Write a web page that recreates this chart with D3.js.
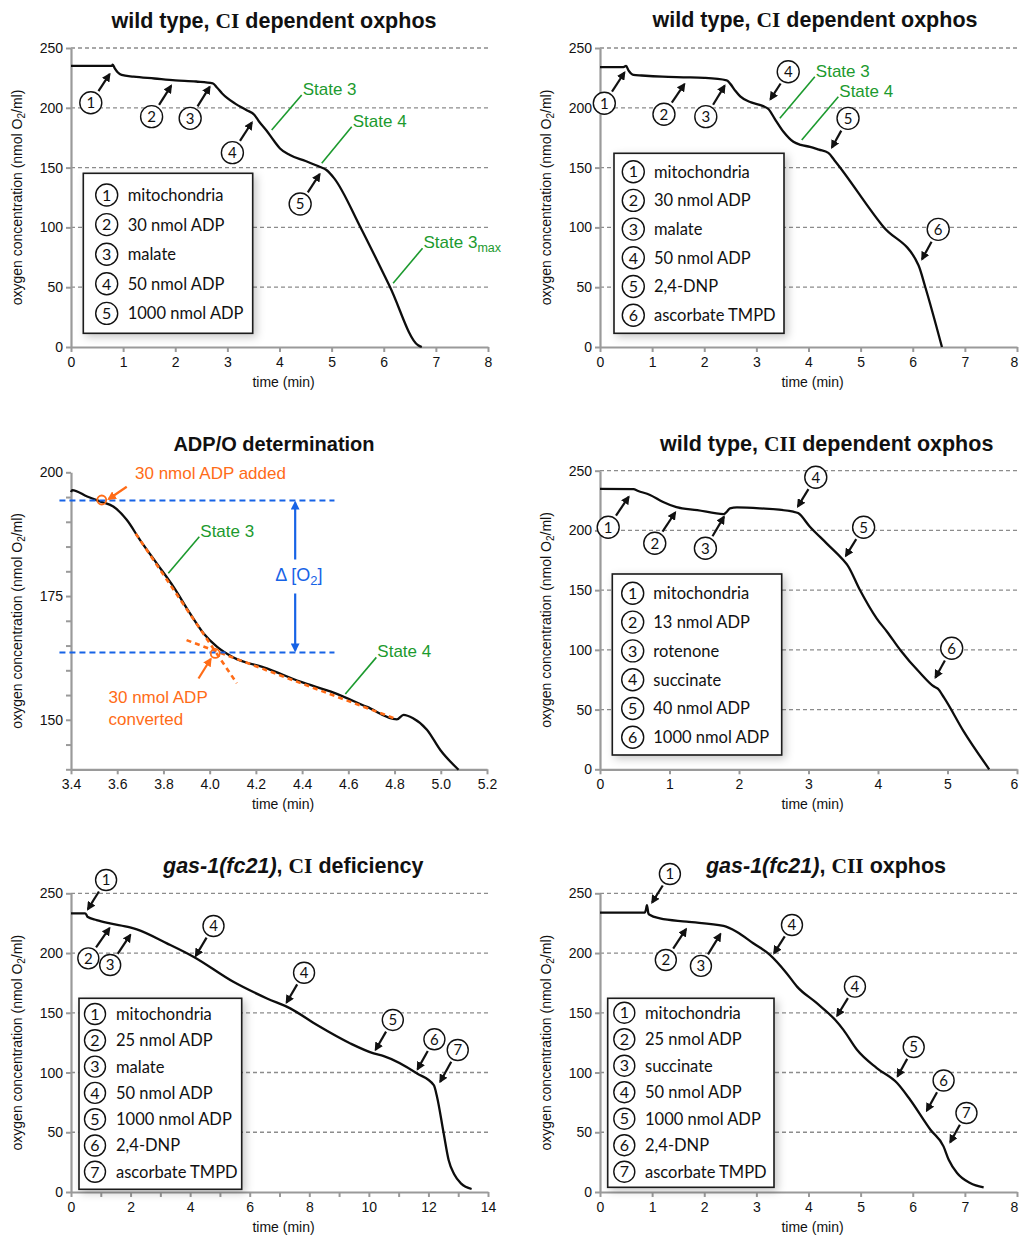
<!DOCTYPE html>
<html><head><meta charset="utf-8">
<script src="https://cdn.jsdelivr.net/npm/d3@7"></script>
<style>body{margin:0;background:#fff} svg{display:block}</style>
</head><body>
<svg id="c" width="1019" height="1235"></svg>
<script>
// ---------------- DATA ----------------
// Panel A: wild type, CI dependent oxphos
const A_TIME = [0, 0.78, 0.8, 0.84, 0.9, 0.97, 1.2, 1.6, 2.0, 2.4, 2.72, 2.8, 2.9, 3.0, 3.15, 3.37, 3.52, 3.6, 3.75, 3.9, 4.01, 4.2, 4.5, 4.78, 4.9, 5.05, 5.55, 6.12, 6.66, 6.73];
const A_O2   = [235, 235, 236, 233, 229.5, 227.5, 226, 224.5, 223, 222, 220.5, 217, 212, 208, 203.5, 198, 194, 189, 181, 172, 166, 160.5, 155.5, 150.5, 148, 141, 100.4, 50.2, 1.4, 0];
const A_LEGEND = ["mitochondria", "30 nmol ADP", "malate", "50 nmol ADP", "1000 nmol ADP"];
const A_MARK_LABEL = ["1", "2", "3", "4", "5"];
const A_MARK_T = [0.75, 1.93, 2.67, 3.48, 4.78];
const A_MARK_O2 = [228.8, 219.1, 218.2, 188.4, 145.2];
const A_STATE_LABEL = ["State 3", "State 4", "State 3|max"];
const A_STATE_T = [3.85, 4.81, 6.18];
const A_STATE_O2 = [181.4, 153.6, 53.3];

// Panel B: wild type, CI dependent oxphos (uncoupled)
const B_TIME = [0, 0.45, 0.5, 0.55, 0.64, 0.8, 1.2, 1.6, 2.0, 2.43, 2.5, 2.6, 2.69, 2.9, 3.13, 3.23, 3.35, 3.52, 3.71, 3.85, 4.03, 4.2, 4.38, 4.5, 5.44, 6.11, 6.24, 6.56];
const B_O2   = [234, 234, 235, 231, 227.5, 227, 226, 225.5, 225, 223, 220, 214, 209.5, 204.5, 201.4, 199, 191, 180, 171.6, 169, 167.4, 165, 162.3, 156, 100.4, 68.4, 50.2, 0];
const B_LEGEND = ["mitochondria", "30 nmol ADP", "malate", "50 nmol ADP", "2,4-DNP", "ascorbate TMPD"];
const B_MARK_LABEL = ["1", "2", "3", "4", "5", "6"];
const B_MARK_T = [0.48, 1.63, 2.40, 3.26, 4.44, 6.17];
const B_MARK_O2 = [230.2, 220.5, 219.1, 206.5, 166.1, 72.7];
const B_STATE_LABEL = ["State 3", "State 4"];
const B_STATE_T = [3.45, 3.87];
const B_STATE_O2 = [191.2, 173.1];

// Panel C: ADP/O determination
const C_TIME = [3.40, 3.405, 3.47, 3.526, 3.583, 3.641, 3.699, 3.771, 3.843, 3.915, 3.973, 4.031, 4.103, 4.247, 4.392, 4.536, 4.681, 4.81, 4.839, 4.88, 4.94, 4.998, 5.077];
const C_O2   = [196, 196.4, 195.1, 194.1, 193.1, 190.4, 186.3, 181.6, 176.9, 171.5, 167.5, 164.8, 162.6, 160.4, 157.7, 155.5, 152.6, 150.1, 151, 150.3, 148, 143.9, 139.9];
const C_FIT3_T = [3.68, 4.117];
const C_FIT3_O2 = [187.6, 157.4];
const C_FIT4_T = [3.9, 4.81];
const C_FIT4_O2 = [166.1, 150.1];
const C_LEVEL_O2 = [194.3, 163.6];
const C_LEVEL_T = [3.35, 4.54];
const C_DELTA_T = 4.37;
const C_ADDED = [3.533, 194.4];
const C_CONVERTED = [4.024, 163.4];
const C_STATE_LABEL = ["State 3", "State 4"];
const C_STATE_T = [3.821, 4.587];
const C_STATE_O2 = [179.6, 155.2];

// Panel D: wild type, CII dependent oxphos
const D_TIME = [0, 0.48, 0.55, 0.72, 0.9, 1.1, 1.4, 1.78, 1.83, 1.87, 1.97, 2.3, 2.78, 2.85, 3.02, 3.26, 3.5, 3.56, 3.74, 3.98, 4.13, 4.32, 4.61, 4.8, 4.86, 4.95, 5.23, 5.6];
const D_O2   = [234.7, 234.5, 233, 229.7, 224, 219.5, 217, 213.7, 216, 218.5, 219.3, 218.5, 215.7, 214.5, 203.1, 189.2, 175.2, 171, 150.1, 126.4, 115.2, 99.9, 80.4, 69.5, 67.5, 60, 32, 0];
const D_LEGEND = ["mitochondria", "13 nmol ADP", "rotenone", "succinate", "40 nmol ADP", "1000 nmol ADP"];
const D_MARK_LABEL = ["1", "2", "3", "4", "5", "6"];
const D_MARK_T = [0.42, 1.09, 1.79, 2.84, 3.53, 4.82];
const D_MARK_O2 = [228.8, 215.7, 212.1, 219.4, 178, 76.2];

// Panel E: gas-1(fc21), CI deficiency
const E_TIME = [0, 0.47, 0.52, 0.55, 0.86, 1.31, 1.98, 2.21, 3.22, 4.11, 5.45, 6.58, 7.36, 8.26, 9.38, 10.16, 10.5, 11.62, 12.18, 12.29, 12.51, 12.68, 12.86, 13.1, 13.45];
const E_O2   = [233.2, 233.2, 232, 230.4, 227.6, 224.8, 221.5, 219.8, 208.1, 196.9, 175.9, 162, 153.7, 139.7, 124.3, 116, 113.7, 99.2, 89.4, 79.6, 49.4, 26.6, 15, 7, 2.5];
const E_LEGEND = ["mitochondria", "25 nmol ADP", "malate", "50 nmol ADP", "1000 nmol ADP", "2,4-DNP", "ascorbate TMPD"];
const E_MARK_LABEL = ["1", "2", "3", "4", "4", "5", "6", "7"];
const E_MARK_T = [0.55, 1.31, 2.01, 4.17, 7.22, 10.21, 11.62, 12.38];
const E_MARK_O2 = [236, 221.5, 215.9, 196.9, 157.9, 118.3, 102.1, 91.5];

// Panel F: gas-1(fc21), CII oxphos
const F_TIME = [0, 0.86, 0.88, 0.9, 0.93, 0.96, 1.15, 1.66, 2.37, 2.62, 2.94, 3.26, 3.58, 3.78, 4.16, 4.51, 4.67, 4.93, 5.31, 5.7, 5.95, 6.34, 6.59, 6.69, 6.85, 7.1, 7.36];
const F_O2   = [233.8, 233.8, 236, 240, 233, 231.8, 229, 226.3, 222.7, 217.9, 208.2, 198.4, 183.1, 171.9, 158, 144.1, 135.7, 119, 103.7, 91.2, 77.2, 52.1, 38.2, 27, 15.9, 7.5, 3.8];
const F_LEGEND = ["mitochondria", "25 nmol ADP", "succinate", "50 nmol ADP", "1000 nmol ADP", "2,4-DNP", "ascorbate TMPD"];
const F_MARK_LABEL = ["1", "2", "3", "4", "4", "5", "6", "7"];
const F_MARK_T = [0.99, 1.66, 2.32, 3.33, 4.54, 5.70, 6.26, 6.71];
const F_MARK_O2 = [241.6, 220.7, 216.6, 199.2, 146.8, 96.2, 67.4, 41];

// Axis ticks
const TICKS_O2 = [0, 50, 100, 150, 200, 250];
const TICKS_T8 = [0, 1, 2, 3, 4, 5, 6, 7, 8];
const TICKS_T6 = [0, 1, 2, 3, 4, 5, 6];
const TICKS_T14 = [0, 1, 2, 3, 4, 5, 6, 7, 8, 9, 10, 11, 12, 13, 14];
const TICKS_T_ADP = [3.4, 3.6, 3.8, 4.0, 4.2, 4.4, 4.6, 4.8, 5.0, 5.2];
const TICKS_O2_ADP = [140, 145, 150, 155, 160, 165, 170, 175, 180, 185, 190, 195, 200];

// ---------------- STYLE ----------------
const SANS = "'Liberation Sans', Arial, sans-serif";
const SERIF = "'Liberation Serif', 'Times New Roman', serif";
const LEG = "Lato, 'Open Sans', sans-serif";
const GREEN = "#1c9a2e", ORANGE = "#ff6c17", BLUE = "#1763e6";
const AXIS = "#9a9a9a";

const svg = d3.select("#c");
const defs = svg.append("defs");
defs.append("filter").attr("id", "sh").attr("x", "-20%").attr("y", "-20%").attr("width", "150%").attr("height", "150%")
  .append("feDropShadow").attr("dx", 3).attr("dy", 3).attr("stdDeviation", 4)
  .attr("flood-color", "#000").attr("flood-opacity", 0.22);
function arrowMarker(id, color) {
  defs.append("marker").attr("id", id).attr("viewBox", "0 0 10 10").attr("refX", 8).attr("refY", 5)
    .attr("markerWidth", 4).attr("markerHeight", 4).attr("orient", "auto-start-reverse")
    .append("path").attr("d", "M0,0 L10,5 L0,10 z").attr("fill", color);
}
arrowMarker("ak", "#111"); arrowMarker("ao", ORANGE); arrowMarker("ab", BLUE);

const zip = (a, b) => a.map((v, i) => [v, b[i]]);

function title(x, y, parts, size) {
  const t = svg.append("text").attr("x", x).attr("y", y).attr("text-anchor", "middle")
    .attr("font-size", size).attr("font-weight", "bold").attr("fill", "#111");
  parts.forEach(p => t.append("tspan").attr("font-family", p.f).attr("font-style", p.i ? "italic" : "normal").text(p.s));
}

function makePanel(o) {
  const x = d3.scaleLinear().domain(o.xd).range([o.left, o.right]);
  const y = d3.scaleLinear().domain(o.yd).range([o.bottom, o.top]);
  const g = svg.append("g");
  if (o.grid) {
    g.selectAll("line.grid").data(o.yt.filter(v => v > o.yd[0])).join("line")
      .attr("x1", o.left).attr("x2", o.gridRight || o.right)
      .attr("y1", d => y(d)).attr("y2", d => y(d))
      .attr("stroke", "#8c8c8c").attr("stroke-width", 1.3).attr("stroke-dasharray", "4,3");
  }
  const xa = g.append("g").attr("transform", `translate(0,${o.bottom})`)
    .call(d3.axisBottom(x).tickValues(o.xt).tickFormat(o.xf).tickSize(5).tickPadding(5).tickSizeOuter(0));
  const ya = g.append("g").attr("transform", `translate(${o.left},0)`)
    .call(d3.axisLeft(y).tickValues(o.yt).tickFormat(o.yf || d3.format("d")).tickSize(5).tickPadding(3).tickSizeOuter(0));
  [xa, ya].forEach(a => {
    a.select(".domain").attr("stroke", AXIS).attr("stroke-width", 2.2);
    a.selectAll(".tick line").attr("stroke", AXIS).attr("stroke-width", 2);
    a.selectAll(".tick text").attr("font-family", SANS).attr("font-size", 14).attr("fill", "#111");
  });
  // keep a label sitting on the page edge inside the page
  if (o.right > 1010) xa.selectAll(".tick text").filter(d => d === o.xd[1]).attr("dx", -3);
  // axis titles
  g.append("text").attr("x", (o.left + o.right) / 2 + 4).attr("y", o.bottom + 39.5).attr("text-anchor", "middle")
    .attr("font-family", SANS).attr("font-size", 14).attr("fill", "#111").text("time (min)");
  const yl = g.append("text").attr("transform", `translate(${o.left - 49},${(o.top + o.bottom) / 2}) rotate(-90)`)
    .attr("text-anchor", "middle").attr("font-family", SANS).attr("font-size", 14).attr("fill", "#111");
  yl.append("tspan").text("oxygen concentration (nmol O");
  yl.append("tspan").attr("font-size", 10).attr("dy", 3).text("2");
  yl.append("tspan").attr("dy", -3).text("/ml)");
  return {x, y, g};
}

function drawCurve(p, data) {
  p.g.append("path").datum(data).attr("fill", "none").attr("stroke", "#0d0d0d").attr("stroke-width", 2.3)
    .attr("stroke-linejoin", "round")
    .attr("d", d3.line().x(d => p.x(d[0])).y(d => p.y(d[1])).curve(d3.curveMonotoneX));
}

function circled(g, cx, cy, r, label, fs) {
  g.append("circle").attr("cx", cx).attr("cy", cy).attr("r", r).attr("fill", "#fff")
    .attr("stroke", "#111").attr("stroke-width", 1.4);
  g.append("text").attr("x", cx).attr("y", cy).attr("dy", "0.36em").attr("text-anchor", "middle")
    .attr("font-family", LEG).attr("font-size", fs).attr("fill", "#111").text(label);
}

function drawMarkers(p, labels, ts, vs, offs, r) {
  labels.forEach((lab, i) => {
    const tx = p.x(ts[i]), ty = p.y(vs[i]);
    const [dx, dy] = offs[i];
    const cx = tx + dx, cy = ty + dy;
    const d = Math.hypot(dx, dy), ux = dx / d, uy = dy / d;
    const L = d - r - 3;
    p.g.append("line").attr("x1", tx + ux * L).attr("y1", ty + uy * L).attr("x2", tx + ux * 1).attr("y2", ty + uy * 1)
      .attr("stroke", "#111").attr("stroke-width", 2.2).attr("marker-end", "url(#ak)");
    circled(p.g, cx, cy, r, lab, 15);
  });
}

function drawStates(p, labels, ts, vs, offs) {
  labels.forEach((lab, i) => {
    const ax = p.x(ts[i]), ay = p.y(vs[i]);
    const [dx, dy] = offs[i];
    p.g.append("line").attr("x1", ax).attr("y1", ay).attr("x2", ax + dx).attr("y2", ay + dy)
      .attr("stroke", GREEN).attr("stroke-width", 1.6);
    const t = p.g.append("text").attr("x", ax + dx + 1).attr("y", ay + dy).attr("font-family", SANS)
      .attr("font-size", 17).attr("fill", GREEN);
    const parts = lab.split("|");
    t.append("tspan").text(parts[0]);
    if (parts[1]) t.append("tspan").attr("font-size", 12.5).attr("dy", 4).text(parts[1]);
  });
}

function drawLegend(p, labels, box) {
  const g = p.g.append("g");
  g.append("rect").attr("x", box.x).attr("y", box.y).attr("width", box.w).attr("height", box.h)
    .attr("fill", "#fff").attr("stroke", "#1a1a1a").attr("stroke-width", 1.6).attr("filter", "url(#sh)");
  labels.forEach((lab, i) => {
    const cy = box.y + box.first + i * box.step;
    circled(g, box.x + box.cx, cy, box.r, String(i + 1), 16);
    g.append("text").attr("x", box.x + box.tx).attr("y", cy).attr("dy", "0.36em")
      .attr("font-family", LEG).attr("font-size", 16.5).attr("fill", "#111").text(lab);
  });
}

// ---------------- PANEL A ----------------
{
  const p = makePanel({left: 71, right: 488, top: 48, bottom: 347, xd: [0, 8], yd: [0, 250],
    xt: TICKS_T8, xf: d3.format("d"), yt: TICKS_O2, grid: true});
  drawCurve(p, zip(A_TIME, A_O2));
  drawStates(p, A_STATE_LABEL, A_STATE_T, A_STATE_O2, [[30, -35], [30, -36.6], [29.4, -35]]);
  drawMarkers(p, A_MARK_LABEL, A_MARK_T, A_MARK_O2, [[-19.3, 29.4], [-20, 31.7], [-20, 32.3], [-20, 31], [-20, 30.7]], 11);
  drawLegend(p, A_LEGEND, {x: 83.3, y: 173.3, w: 169.4, h: 160, first: 21.7, step: 29.6, cx: 23.4, tx: 44.4, r: 11});
  title(274, 28, [{f: SANS, s: "wild type, "}, {f: SERIF, s: "CI"}, {f: SANS, s: " dependent oxphos"}], 21.5);
}
// ---------------- PANEL B ----------------
{
  const p = makePanel({left: 600, right: 1017, top: 48, bottom: 347, xd: [0, 8], yd: [0, 250],
    xt: TICKS_T8, xf: d3.format("d"), yt: TICKS_O2, grid: true, gridRight: 1019});
  drawCurve(p, zip(B_TIME, B_O2));
  drawStates(p, B_STATE_LABEL, B_STATE_T, B_STATE_O2, [[35, -41.6], [36.6, -43.3]]);
  drawMarkers(p, B_MARK_LABEL, B_MARK_T, B_MARK_O2, [[-20.7, 31.6], [-21, 31], [-19.3, 31.7], [18.3, -28.3], [16.6, -30], [16.6, -30.7]], 11);
  drawLegend(p, B_LEGEND, {x: 614, y: 153.3, w: 170, h: 180, first: 18.4, step: 28.7, cx: 19.3, tx: 40, r: 11});
  title(815, 27, [{f: SANS, s: "wild type, "}, {f: SERIF, s: "CI"}, {f: SANS, s: " dependent oxphos"}], 21.5);
}
// ---------------- PANEL C ----------------
{
  const p = makePanel({left: 71, right: 487, top: 472.3, bottom: 769.3, xd: [3.4, 5.2], yd: [140, 200],
    xt: TICKS_T_ADP, xf: d3.format(".1f"), yt: TICKS_O2_ADP,
    yf: d => (d % 25 === 0 ? d : ""), grid: false});
  drawCurve(p, zip(C_TIME, C_O2));
  // fit lines
  [zip(C_FIT3_T, C_FIT3_O2), zip(C_FIT4_T, C_FIT4_O2)].forEach(seg => {
    p.g.append("line").attr("x1", p.x(seg[0][0])).attr("y1", p.y(seg[0][1]))
      .attr("x2", p.x(seg[1][0])).attr("y2", p.y(seg[1][1]))
      .attr("stroke", ORANGE).attr("stroke-width", 2.6).attr("stroke-dasharray", "5,4");
  });
  // level lines
  C_LEVEL_O2.forEach(v => {
    p.g.append("line").attr("x1", p.x(C_LEVEL_T[0])).attr("x2", p.x(C_LEVEL_T[1]))
      .attr("y1", p.y(v)).attr("y2", p.y(v))
      .attr("stroke", BLUE).attr("stroke-width", 2.2).attr("stroke-dasharray", "6,4");
  });
  // delta arrow
  const ax = p.x(C_DELTA_T), yTop = p.y(C_LEVEL_O2[0]), yBot = p.y(C_LEVEL_O2[1]);
  const ym = (yTop + yBot) / 2;
  p.g.append("line").attr("x1", ax).attr("x2", ax).attr("y1", ym - 17).attr("y2", yTop + 2)
    .attr("stroke", BLUE).attr("stroke-width", 2.2).attr("marker-end", "url(#ab)");
  p.g.append("line").attr("x1", ax).attr("x2", ax).attr("y1", ym + 17).attr("y2", yBot - 2)
    .attr("stroke", BLUE).attr("stroke-width", 2.2).attr("marker-end", "url(#ab)");
  const dt = p.g.append("text").attr("x", ax - 20).attr("y", ym + 5).attr("font-family", SANS)
    .attr("font-size", 18).attr("fill", BLUE);
  dt.append("tspan").text("Δ [O");
  dt.append("tspan").attr("font-size", 13).attr("dy", 4).text("2");
  dt.append("tspan").attr("dy", -4).text("]");
  // orange circles + arrows + text
  const c1x = p.x(C_ADDED[0]), c1y = p.y(C_ADDED[1]);
  const c2x = p.x(C_CONVERTED[0]), c2y = p.y(C_CONVERTED[1]);
  [[c1x, c1y], [c2x, c2y]].forEach(([cx, cy]) => p.g.append("circle").attr("cx", cx).attr("cy", cy).attr("r", 4.5)
    .attr("fill", "none").attr("stroke", ORANGE).attr("stroke-width", 1.8));
  p.g.append("line").attr("x1", c1x + 25).attr("y1", c1y - 13.3).attr("x2", c1x + 7).attr("y2", c1y - 1)
    .attr("stroke", ORANGE).attr("stroke-width", 2.2).attr("marker-end", "url(#ao)");
  p.g.append("line").attr("x1", c2x - 16.7).attr("y1", c2y + 25).attr("x2", c2x - 4.5).attr("y2", c2y + 5.5)
    .attr("stroke", ORANGE).attr("stroke-width", 2.2).attr("marker-end", "url(#ao)");
  p.g.append("text").attr("x", c1x + 33.3).attr("y", c1y - 20.7).attr("font-family", SANS).attr("font-size", 17)
    .attr("fill", ORANGE).text("30 nmol ADP added");
  p.g.append("text").attr("x", c2x - 106.7).attr("y", c2y + 49.4).attr("font-family", SANS).attr("font-size", 17)
    .attr("fill", ORANGE).text("30 nmol ADP");
  p.g.append("text").attr("x", c2x - 106.7).attr("y", c2y + 71.7).attr("font-family", SANS).attr("font-size", 17)
    .attr("fill", ORANGE).text("converted");
  drawStates(p, C_STATE_LABEL, C_STATE_T, C_STATE_O2, [[31, -36.6], [31, -36.7]]);
  title(274, 450.7, [{f: SANS, s: "ADP/O determination"}], 20);
}
// ---------------- PANEL D ----------------
{
  const p = makePanel({left: 600, right: 1017, top: 470.7, bottom: 769.3, xd: [0, 6], yd: [0, 250],
    xt: TICKS_T6, xf: d3.format("d"), yt: TICKS_O2, grid: true, gridRight: 1019});
  drawCurve(p, zip(D_TIME, D_O2));
  drawMarkers(p, D_MARK_LABEL, D_MARK_T, D_MARK_O2, [[-21, 31.3], [-21, 31.6], [-19, 32.3], [18.4, -30], [18.3, -29.4], [16.7, -30]], 11);
  drawLegend(p, D_LEGEND, {x: 612.3, y: 574, w: 169.4, h: 181, first: 19.3, step: 28.8, cx: 20.4, tx: 41, r: 11});
  title(826.7, 450.7, [{f: SANS, s: "wild type, "}, {f: SERIF, s: "CII"}, {f: SANS, s: " dependent oxphos"}], 21.5);
}
// ---------------- PANEL E ----------------
{
  const p = makePanel({left: 71, right: 488, top: 893.3, bottom: 1192, xd: [0, 14], yd: [0, 250],
    xt: TICKS_T14, xf: d => (d % 2 === 0 ? d : ""), yt: TICKS_O2, grid: true});
  drawCurve(p, zip(E_TIME, E_O2));
  drawMarkers(p, E_MARK_LABEL, E_MARK_T, E_MARK_O2, [[18.7, -30], [-21.7, 31], [-20.7, 31], [18.3, -30.7], [18, -30.6], [17.7, -30.7], [17.3, -30.7], [18, -32.7]], 10.5);
  drawLegend(p, E_LEGEND, {x: 79, y: 998.3, w: 162.7, h: 191, first: 15.7, step: 26.3, cx: 16, tx: 37, r: 10.5});
  title(293.3, 873.3, [{f: SANS, s: "gas-1(fc21)", i: true}, {f: SANS, s: ", "}, {f: SERIF, s: "CI"}, {f: SANS, s: " deficiency"}], 21.5);
}
// ---------------- PANEL F ----------------
{
  const p = makePanel({left: 600, right: 1017, top: 893.3, bottom: 1192, xd: [0, 8], yd: [0, 250],
    xt: TICKS_T8, xf: d3.format("d"), yt: TICKS_O2, grid: true, gridRight: 1019});
  drawCurve(p, zip(F_TIME, F_O2));
  drawMarkers(p, F_MARK_LABEL, F_MARK_T, F_MARK_O2, [[18.3, -29.3], [-20.7, 31.7], [-20, 32.7], [18.4, -29], [18.3, -30], [16.6, -30], [17.3, -31], [16.7, -30]], 10.5);
  drawLegend(p, F_LEGEND, {x: 607.7, y: 998.3, w: 166.3, h: 189, first: 14.4, step: 26.5, cx: 16.6, tx: 37.3, r: 10.5});
  title(826, 873.3, [{f: SANS, s: "gas-1(fc21)", i: true}, {f: SANS, s: ", "}, {f: SERIF, s: "CII"}, {f: SANS, s: " oxphos"}], 21.5);
}
</script>
</body></html>
